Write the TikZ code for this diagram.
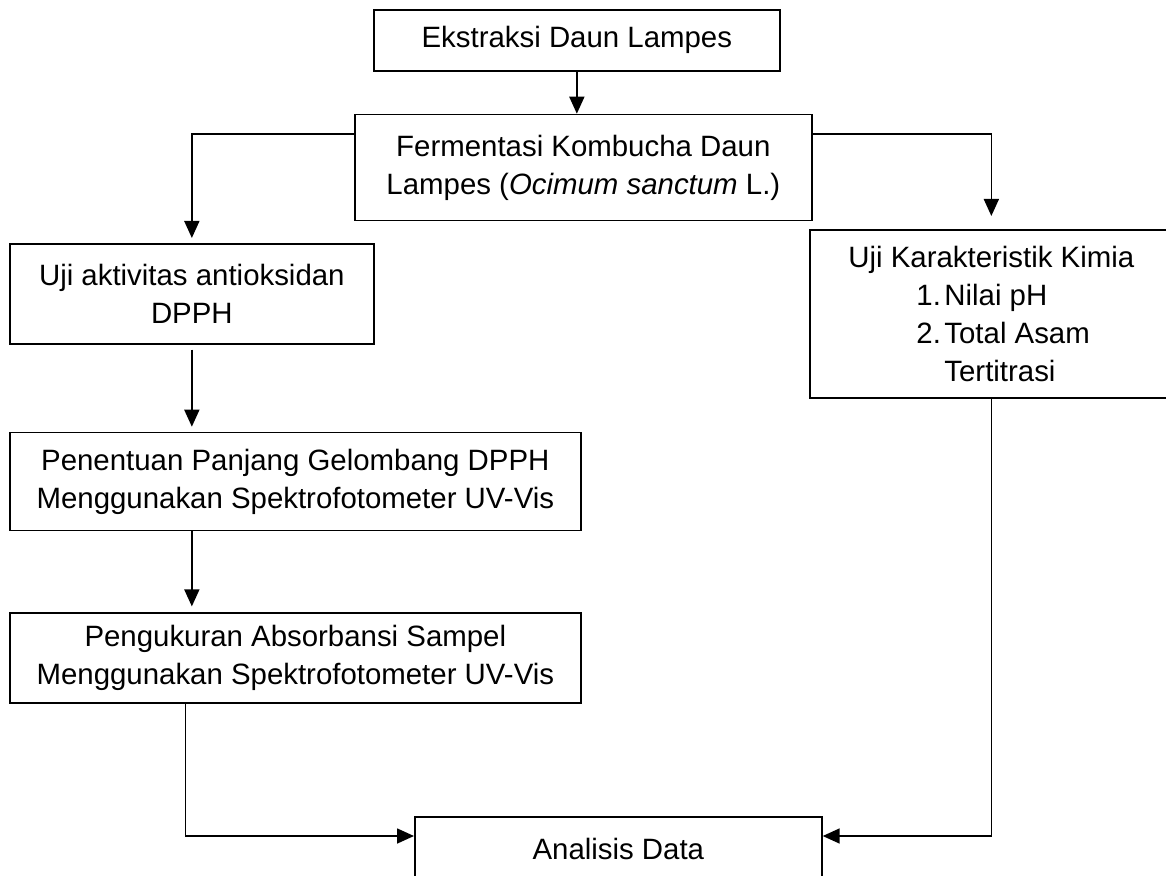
\documentclass[tikz,border=0pt]{standalone}
\usepackage{fontspec}
\setmainfont{Liberation Sans}
\usetikzlibrary{positioning,arrows.meta}

\begin{document}
\begin{tikzpicture}[
        box/.style={draw, line width=0.85pt, align=center, inner sep=0pt,
          font=\fontsize{14.7pt}{19pt}\selectfont},
        flow/.style={-{Triangle[length=8.5pt,width=7.5pt]}, line width=0.85pt}
      ]
        \useasboundingbox (0,0) rectangle (583pt,-438pt);

          \node [box, anchor=north west, minimum width=203pt, minimum height=30.5pt] (ekstr) at (186.5pt,-4.5pt) {Ekstraksi Daun Lampes};
          \node [box, below=21pt of ekstr, xshift=3.25pt, minimum width=228.5pt, minimum height=53pt] (ferm) {Fermentasi Kombucha Daun\\ Lampes (\textit{Ocimum sanctum} L.)};
          \node [box, anchor=north west, minimum width=182pt, minimum height=50pt] (antiox) at (4.5pt,-121.5pt) {Uji aktivitas antioksidan\\ DPPH};
          \node [box, anchor=north west, align=left, minimum width=181.5pt, minimum height=84pt] (kimia) at (404.5pt,-114.5pt) {Uji Karakteristik Kimia\\
            \hspace*{34pt}\makebox[14pt][l]{1.}Nilai pH\\
            \hspace*{34pt}\makebox[14pt][l]{2.}Total Asam\\
            \hspace*{48pt}Tertitrasi};
          \node [box, below right=43.5pt and 0pt of antiox.south west, minimum width=285.5pt, minimum height=49pt] (gelomb) {Penentuan Panjang Gelombang DPPH\\ Menggunakan Spektrofotometer UV-Vis};
          \node [box, below=40.5pt of gelomb, minimum width=285.5pt, minimum height=45pt] (absorb) {Pengukuran Absorbansi Sampel\\ Menggunakan Spektrofotometer UV-Vis};
          \node [box, anchor=north west, minimum width=203.5pt, minimum height=32pt] (analisis) at (207pt,-408pt) {Analisis Data};

          \draw [flow] (ekstr.south) -- (ekstr.south |- ferm.north);
          \draw [flow] ([yshift=-10pt]ferm.north west) -| ([yshift=2.5pt]antiox.north);
          \draw [flow] ([yshift=-10pt]ferm.north east) -| ([yshift=6.5pt]kimia.north);
          \draw [flow] ([yshift=-2.5pt]antiox.south) -- ([yshift=2.5pt]antiox.south |- gelomb.north);
          \draw [flow] (antiox.south |- gelomb.south) -- ([yshift=3pt]antiox.south |- absorb.north);
          \draw [flow] ([xshift=-55pt]absorb.south) |- ([yshift=-10pt]analisis.north west);
          \draw [flow] (kimia.south) |- ([yshift=-10pt]analisis.north east);
      \end{tikzpicture}
\end{document}
